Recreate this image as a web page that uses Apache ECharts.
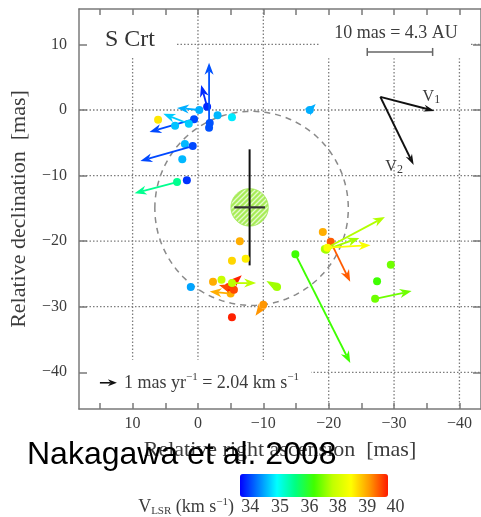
<!DOCTYPE html>
<html>
<head>
<meta charset="utf-8">
<script src="https://cdn.jsdelivr.net/npm/echarts@6/dist/echarts.min.js"></script>
<style>
  html, body { margin: 0; padding: 0; background: #fff; }
  #chart { width: 481px; height: 517px; }
</style>
</head>
<body>
<div id="chart"></div>
<script>
// ---- Water maser spots in S Crt (offsets in mas; VLSR in km/s; proper motions in mas/yr) ----
const spotRA   = [-1.4, -1.7, -1.8, -0.2, 0.6, 1.4, 3.5, -3.0, -5.2, 2.0, 0.8, 2.4, 1.7, 3.2, 6.1, -17.1,
                  -6.4, -5.2, -7.3, -2.3, -3.6, 1.1, -5.0, -4.7, -5.5, -5.2, -12.1, -10.0, -5.2,
                  -19.1, -20.3, -19.4, -19.6, -19.8, -14.9, -27.4, -29.5, -27.1];
const spotDec  = [0.5, -2.7, -2.0, 0.0, -1.4, -2.1, -2.4, -0.8, -1.1, -5.2, -5.5, -7.5, -10.7, -11.0, -1.5, 0.0,
                  -20.0, -23.0, -22.7, -26.2, -25.9, -27.0, -28.0, -27.0, -27.4, -26.4, -27.0, -29.7, -31.6,
                  -18.6, -20.1, -21.2, -21.3, -21.0, -22.0, -26.1, -23.6, -28.8];
const spotVlsr = [33.85, 34.05, 34.05, 34.5, 34.0, 34.65, 34.6, 34.55, 34.8, 34.55, 34.0, 34.55, 33.9, 35.45, 38.6, 34.5,
                  38.95, 38.7, 38.55, 38.95, 37.8, 34.45, 38.95, 39.7, 39.5, 37.6, 37.3, 39.1, 39.7,
                  38.95, 39.4, 37.5, 37.3, 38.4, 36.3, 36.3, 36.8, 36.8];
const pmRA     = [0.35, 0.0, null, 1.31, 2.62, 1.5, null, null, null, null, 3.08, null, null, 2.5, null, -0.35,
                  null, null, null, null, null, null, 1.23, -0.77, 0.88, -1.42, 0.63, 0.46, null,
                  null, -1.15, -3.54, -1.96, -2.54, -3.23, null, null, -2.15];
const pmDec    = [1.27, 3.81, null, 0.12, -0.75, 0.58, null, null, null, null, -0.88, null, null, -0.65, null, 0.35,
                  null, null, null, null, null, null, 0.12, 0.69, 0.27, 0.0, 0.35, -0.65, null,
                  null, -2.35, 1.88, 0.69, 0.15, -6.38, null, null, 0.46];

// Estimated stellar position with its error bars and circle (mas)
const starRA = -7.9, starDec = -14.85, starErrRA = 2.35, starErrDec = 8.85, starRadius = 2.85;
// Dashed ring fitted to the maser distribution (mas)
const ringRA = -8.2, ringDec = -15.0, ringRadius = 14.8;
// Mean motion vectors V1 and V2 (start and ends, mas)
const vecStart = [-27.9, 2.0];
const vecEnds  = [[-36.2, -0.15], [-33.0, -8.4]];
const vecNames = ['1', '2'];
// Linear scale bar: 10 mas = 4.3 AU
const scaleBarRA = [-25.9, -35.9], scaleBarDec = 8.85;
// Proper-motion legend arrow: 1 mas/yr
const legendArrowStart = [15.0, -41.6], legendArrowPM = 1;
const ARROW_SCALE = 2.6; // mas drawn per mas/yr of proper motion

// Axis ticks and labels
const raTicks   = [15, 10, 5, 0, -5, -10, -15, -20, -25, -30, -35, -40];
const raLabels  = [10, 0, -10, -20, -30, -40];
const decTicks  = [10, 0, -10, -20, -30, -40];
const gridRA    = [10, 0, -10, -20, -30, -40];
const gridDec   = [10, 0, -10, -20, -30, -40];
// Colour bar: VLSR tick values and their fractional positions along the bar
const vlsrTicks    = [34, 35, 36, 38, 39, 40];
const vlsrTickPos  = [0.07, 0.27, 0.47, 0.66, 0.86, 1.05];

// ---- Layout ----
const X_MIN = -43.3, X_MAX = 18.2, Y_MIN = -45.6, Y_MAX = 15.4;
const BAR_LEFT = 240, BAR_TOP = 474, BAR_LEN = 148, BAR_THICK = 23;
const SERIF = '"Liberation Serif", "Times New Roman", serif';
const TXT = '#3c3c3c';
// Blank areas in the grid behind the annotations: [raFrom, raTo, decFrom, decTo]
const gridGaps = [
  [18.2, 3.5, 15.4, 8.0],
  [-18.6, -41.5, 15.4, 7.9],
  [18.2, -17.3, -38.1, -45.6]
];

function vlsrToPos(v) {
  const t = vlsrTicks, p = vlsrTickPos, n = t.length;
  let i = 0;
  if (v <= t[0]) i = 0;
  else if (v >= t[n - 1]) i = n - 2;
  else { while (v > t[i + 1]) i++; }
  return p[i] + (v - t[i]) / (t[i + 1] - t[i]) * (p[i + 1] - p[i]);
}

const spotData = spotRA.map((ra, i) => [
  ra, spotDec[i], vlsrToPos(spotVlsr[i]),
  pmRA[i] == null ? '-' : pmRA[i],
  pmDec[i] == null ? '-' : pmDec[i]
]);

function fmt(v) { return v < 0 ? '\u2212' + (-v) : String(v); }

// Arrow (line + notched head) between two pixel points
function arrowShapes(p0, p1, color, lw, headLen, headW) {
  const dx = p1[0] - p0[0], dy = p1[1] - p0[1];
  const d = Math.hypot(dx, dy);
  if (d < 1e-6) return [];
  const ux = dx / d, uy = dy / d, nx = -uy, ny = ux;
  const bx = p1[0] - ux * headLen, by = p1[1] - uy * headLen;
  const mx = p1[0] - ux * headLen * 0.7, my = p1[1] - uy * headLen * 0.7;
  const out = [];
  if (d > headLen * 0.7) {
    out.push({ type: 'line', shape: { x1: p0[0], y1: p0[1], x2: mx, y2: my },
               style: { stroke: color, lineWidth: lw } });
  }
  out.push({ type: 'polygon',
             shape: { points: [[p1[0], p1[1]], [bx + nx * headW, by + ny * headW], [mx, my], [bx - nx * headW, by - ny * headW]] },
             style: { fill: color } });
  return out;
}

function circlePoints(api, cra, cdec, r) {
  const pts = [];
  for (let k = 0; k < 120; k++) {
    const a = k / 120 * Math.PI * 2;
    pts.push(api.coord([cra + r * Math.cos(a), cdec + r * Math.sin(a)]));
  }
  return pts;
}

// Hatched fill for the star circle
const hatch = document.createElement('canvas');
hatch.width = hatch.height = 5;
(function () {
  const c = hatch.getContext('2d');
  c.fillStyle = '#a8ec58'; c.fillRect(0, 0, 5, 5);
  c.strokeStyle = '#e4fbcc'; c.lineWidth = 1.3;
  c.beginPath();
  c.moveTo(0, 5); c.lineTo(5, 0);
  c.moveTo(-1, 1); c.lineTo(1, -1);
  c.moveTo(4, 6); c.lineTo(6, 4);
  c.stroke();
})();

const chart = echarts.init(document.getElementById('chart'), null, { renderer: 'canvas' });

const axisLineStyle = { color: '#7a7a7a', width: 1.5 };
const frameLine = { show: true, onZero: false, lineStyle: axisLineStyle };

const option = {
  animation: false,
  backgroundColor: '#ffffff',
  grid: { left: 79, right: -4, top: 9, bottom: 108 },
  xAxis: [
    {
      type: 'value', inverse: true, min: X_MIN, max: X_MAX, position: 'bottom', z: 10,
      axisLine: frameLine,
      axisTick: { show: true, inside: true, length: 6, customValues: raTicks, lineStyle: axisLineStyle },
      axisLabel: { customValues: raLabels, formatter: fmt, color: TXT, fontFamily: SERIF, fontSize: 16, margin: 7 },
      splitLine: { show: false },
      name: 'Relative right ascension  [mas]', nameLocation: 'middle', nameGap: 30,
      nameTextStyle: { color: TXT, fontFamily: SERIF, fontSize: 22 }
    },
    {
      type: 'value', inverse: true, min: X_MIN, max: X_MAX, position: 'top', z: 10,
      axisLine: frameLine,
      axisTick: { show: true, inside: true, length: 6, customValues: raTicks, lineStyle: axisLineStyle },
      axisLabel: { show: false },
      splitLine: { show: false }
    }
  ],
  yAxis: [
    {
      type: 'value', min: Y_MIN, max: Y_MAX, position: 'left', z: 10,
      axisLine: frameLine,
      axisTick: { show: true, inside: true, length: 8, customValues: decTicks, lineStyle: axisLineStyle },
      axisLabel: { customValues: decTicks, formatter: fmt, color: TXT, fontFamily: SERIF, fontSize: 16, margin: 12 },
      splitLine: { show: false },
      name: 'Relative declination  [mas]', nameLocation: 'middle', nameGap: 49, nameRotate: 90,
      nameTextStyle: { color: TXT, fontFamily: SERIF, fontSize: 22 }
    },
    {
      type: 'value', min: Y_MIN, max: Y_MAX, position: 'right', z: 10,
      axisLine: frameLine,
      axisTick: { show: true, inside: true, length: 8, customValues: decTicks, lineStyle: axisLineStyle },
      axisLabel: { show: false },
      splitLine: { show: false }
    }
  ],
  visualMap: {
    type: 'continuous', seriesIndex: 2, dimension: 2, min: 0, max: 1,
    orient: 'horizontal', left: BAR_LEFT, top: BAR_TOP, padding: 0,
    itemWidth: BAR_THICK, itemHeight: BAR_LEN, calculable: false, realtime: false,
    text: null, showLabel: false,
    inRange: { color: ['#0000ff', '#0080ff', '#00ffff', '#00ff80', '#40ff00', '#c0ff00', '#ffff00', '#ff9900', '#ff1a00'] }
  },
  series: [
    {
      // dotted grid lines
      type: 'custom', z: 1, silent: true, clip: false,
      data: [[0, 0]],
      renderItem: function (params, api) {
        const ch = [];
        const st = { stroke: '#7d7d7d', lineWidth: 1.3, lineDash: [1.5, 2] };
        gridRA.forEach(v => {
          const a = api.coord([v, Y_MAX]), b = api.coord([v, Y_MIN]);
          ch.push({ type: 'line', shape: { x1: a[0], y1: a[1], x2: b[0], y2: b[1] }, style: st });
        });
        gridDec.forEach(v => {
          const a = api.coord([X_MAX, v]), b = api.coord([X_MIN, v]);
          ch.push({ type: 'line', shape: { x1: a[0], y1: a[1], x2: b[0], y2: b[1] }, style: st });
        });
        gridGaps.forEach(g => {
          const a = api.coord([g[0], g[2]]), b = api.coord([g[1], g[3]]);
          ch.push({ type: 'rect',
                    shape: { x: Math.min(a[0], b[0]), y: Math.min(a[1], b[1]), width: Math.abs(b[0] - a[0]), height: Math.abs(b[1] - a[1]) },
                    style: { fill: '#ffffff' } });
        });
        return { type: 'group', children: ch };
      }
    },
    {
      // ring, star position, scale bar, mean motion vectors, legend arrow
      type: 'custom', z: 3, silent: true, clip: false,
      data: [[0, 0]],
      renderItem: function (params, api) {
        const ch = [];
        ch.push({ type: 'polygon', shape: { points: circlePoints(api, ringRA, ringDec, ringRadius) },
                  style: { fill: 'none', stroke: '#8a8a8a', lineWidth: 1.5, lineDash: [6, 5] } });
        ch.push({ type: 'polygon', shape: { points: circlePoints(api, starRA, starDec, starRadius) },
                  style: { fill: { image: hatch, repeat: 'repeat' }, stroke: '#a6ea5c', lineWidth: 1 } });
        let a = api.coord([starRA, starDec + starErrDec]), b = api.coord([starRA, starDec - starErrDec]);
        ch.push({ type: 'line', shape: { x1: a[0], y1: a[1], x2: b[0], y2: b[1] }, style: { stroke: '#111', lineWidth: 2 } });
        a = api.coord([starRA + starErrRA, starDec]); b = api.coord([starRA - starErrRA, starDec]);
        ch.push({ type: 'line', shape: { x1: a[0], y1: a[1], x2: b[0], y2: b[1] }, style: { stroke: '#333', lineWidth: 2.2 } });
        // scale bar
        a = api.coord([scaleBarRA[0], scaleBarDec]); b = api.coord([scaleBarRA[1], scaleBarDec]);
        const sb = { stroke: '#666', lineWidth: 1.5 };
        ch.push({ type: 'line', shape: { x1: a[0], y1: a[1], x2: b[0], y2: b[1] }, style: sb });
        ch.push({ type: 'line', shape: { x1: a[0], y1: a[1] - 4, x2: a[0], y2: a[1] + 4 }, style: sb });
        ch.push({ type: 'line', shape: { x1: b[0], y1: b[1] - 4, x2: b[0], y2: b[1] + 4 }, style: sb });
        // V1, V2
        const s = api.coord(vecStart);
        vecEnds.forEach((e, i) => {
          ch.push(...arrowShapes(s, api.coord(e), '#111', 2, 11, 3.5));
        });
        const l1 = api.coord([vecEnds[0][0] + 0.5, vecEnds[0][1] + 2.2]);
        const l2 = api.coord([vecEnds[1][0] + 3.0, vecEnds[1][1] - 0.3]);
        [l1, l2].forEach((p, i) => {
          ch.push({ type: 'text', x: p[0] - 3, y: p[1],
                    style: { text: 'V', font: '16px ' + SERIF, fill: TXT, align: 'center', verticalAlign: 'middle', textAlign: 'center', textVerticalAlign: 'middle' } });
          ch.push({ type: 'text', x: p[0] + 6, y: p[1] + 3,
                    style: { text: vecNames[i], font: '12px ' + SERIF, fill: TXT, align: 'center', verticalAlign: 'middle', textAlign: 'center', textVerticalAlign: 'middle' } });
        });
        // legend arrow
        const la = api.coord(legendArrowStart);
        const lb = api.coord([legendArrowStart[0] - legendArrowPM * ARROW_SCALE, legendArrowStart[1]]);
        ch.push(...arrowShapes(la, lb, '#111', 1.6, 9, 3.5));
        return { type: 'group', children: ch };
      }
    },
    {
      // maser spots with proper-motion arrows
      type: 'custom', z: 4, silent: true, clip: false,
      dimensions: ['ra', 'dec', 'pos', 'pmra', 'pmdec'],
      encode: { x: 0, y: 1 },
      data: spotData,
      renderItem: function (params, api) {
        const ra = api.value(0), dec = api.value(1);
        const color = api.visual('color');
        const p0 = api.coord([ra, dec]);
        const ch = [{ type: 'circle', shape: { cx: p0[0], cy: p0[1], r: 4 }, style: { fill: color } }];
        const mra = api.value(3), mdec = api.value(4);
        if (isFinite(mra) && isFinite(mdec)) {
          const p1 = api.coord([ra + mra * ARROW_SCALE, dec + mdec * ARROW_SCALE]);
          ch.push(...arrowShapes(p0, p1, color, 1.8, 12, 4.5));
        }
        return { type: 'group', children: ch };
      }
    }
  ],
  graphic: [
    { type: 'text', x: 105, y: 40, z: 50,
      style: { text: 'S Crt', font: '24px ' + SERIF, fill: '#333', verticalAlign: 'middle', textVerticalAlign: 'middle' } },
    { type: 'text', x: 396, y: 33, z: 50,
      style: { text: '10 mas = 4.3 AU', font: '18px ' + SERIF, fill: TXT, align: 'center', verticalAlign: 'middle', textAlign: 'center', textVerticalAlign: 'middle' } },
    { type: 'text', x: 124, y: 383, z: 50,
      style: {
        text: '{n|1 mas yr}{p|\u22121}{n| = 2.04 km s}{p|\u22121}',
        verticalAlign: 'middle', textVerticalAlign: 'middle',
        rich: {
          n: { font: '18px ' + SERIF, fill: TXT, color: TXT, lineHeight: 22 },
          p: { font: '11px ' + SERIF, fill: TXT, color: TXT, lineHeight: 12, verticalAlign: 'top' }
        }
      } },
    { type: 'text', x: 234, y: 507, z: 50,
      style: {
        text: '{n|V}{s|LSR}{n| (km s}{p|\u22121}{n|)}',
        align: 'right', textAlign: 'right', verticalAlign: 'middle', textVerticalAlign: 'middle',
        rich: {
          n: { font: '18px ' + SERIF, fill: TXT, color: TXT, lineHeight: 20 },
          s: { font: '11px ' + SERIF, fill: TXT, color: TXT, lineHeight: 14, verticalAlign: 'bottom' },
          p: { font: '11px ' + SERIF, fill: TXT, color: TXT, lineHeight: 12, verticalAlign: 'top' }
        }
      } }
  ].concat(vlsrTicks.map((v, i) => ({
    type: 'text', x: BAR_LEFT + vlsrTickPos[i] * BAR_LEN, y: 507, z: 50,
    style: { text: String(v), font: '18px ' + SERIF, fill: TXT, align: 'center', verticalAlign: 'middle', textAlign: 'center', textVerticalAlign: 'middle' }
  }))).concat([
    { type: 'text', x: 27, y: 455, z: 100,
      style: { text: 'Nakagawa et al. 2008', font: '32px "Liberation Sans", Arial, sans-serif', fill: '#000', verticalAlign: 'middle', textVerticalAlign: 'middle' } }
  ])
};

chart.setOption(option);
</script>
</body>
</html>
